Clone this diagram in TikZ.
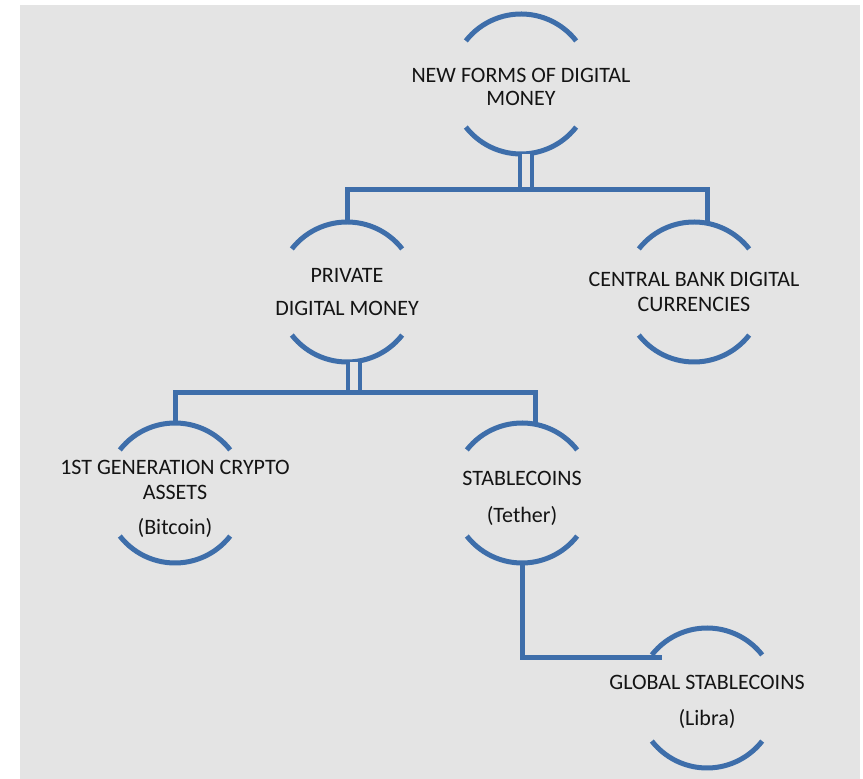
\documentclass[tikz,border=0pt]{standalone}
\usepackage{fontspec}
\setmainfont{Carlito}
\usepackage{tikz}
\usetikzlibrary{positioning}
\definecolor{ringblue}{RGB}{62,110,170}
\definecolor{panel}{RGB}{228,228,228}
\definecolor{ink}{RGB}{20,20,20}
\tikzset{
        ring/.style={circle, minimum size=70pt, inner sep=0pt, outer sep=0pt},
        caption/.style={align=center, text=ink, inner sep=0pt,
                        font=\fontsize{11}{12.5}\selectfont},
        every label/.style={caption},
        link/.style={draw=ringblue, line width=2.5pt},
        twin/.style={draw=ringblue, line width=2pt, double=panel,
                     double distance=4pt},
 }

\begin{document}
\begin{tikzpicture}[x=0.5pt, y=-0.5pt, node distance=100pt, on grid]
    \useasboundingbox (0,0) rectangle (863,779);
    \fill[panel] (20,5) rectangle (860,779);

    \node[ring, label={[yshift=-1.5pt]center:{NEW FORMS OF DIGITAL\\[-1pt] MONEY}}] (root) at (521,84) {};
    \node[ring, below left=104pt and 87pt of root,
          label=center:{PRIVATE\\[4pt] DIGITAL MONEY}] (priv) {};
    \node[ring, right=173.5pt of priv,
          label=center:{CENTRAL BANK DIGITAL\\ CURRENCIES}] (cbdc) {};
    \node[ring, below left=100.5pt and 86pt of priv,
          label={[yshift=-3pt]center:{1ST GENERATION CRYPTO\\ ASSETS\\[5pt] (Bitcoin)}}] (gen) {};
    \node[ring, right=173.5pt of gen,
          label={[yshift=-2.5pt]center:{STABLECOINS\\[6pt] (Tether)}}] (stab) {};
    \node[ring, below right=102.5pt and 92.5pt of stab,
          label={[yshift=-2pt]center:{GLOBAL STABLECOINS\\[5.5pt] (Libra)}}] (glob) {};

    % open rings round every box
    \foreach \n in {root,priv,cbdc,gen,stab,glob} {
        \draw[link] (\n.142) arc[start angle=142, end angle=38, radius=35pt];
        \draw[link] (\n.218) arc[start angle=218, end angle=322, radius=35pt];
    }

    \draw[twin] ([xshift=2.5pt]root.south) -- ++(0,36);
    \draw[link] (priv.north) -- ++(0,-32) -| (cbdc.79);

    \draw[twin] ([xshift=3.5pt]priv.south) -- ++(0,31);
    \draw[link] (gen.north) -- ++(0,-30) -| (stab.79);

    \draw[link] (stab.south) |- ([shift={(9,5)}]glob.140);
\end{tikzpicture}
\end{document}
